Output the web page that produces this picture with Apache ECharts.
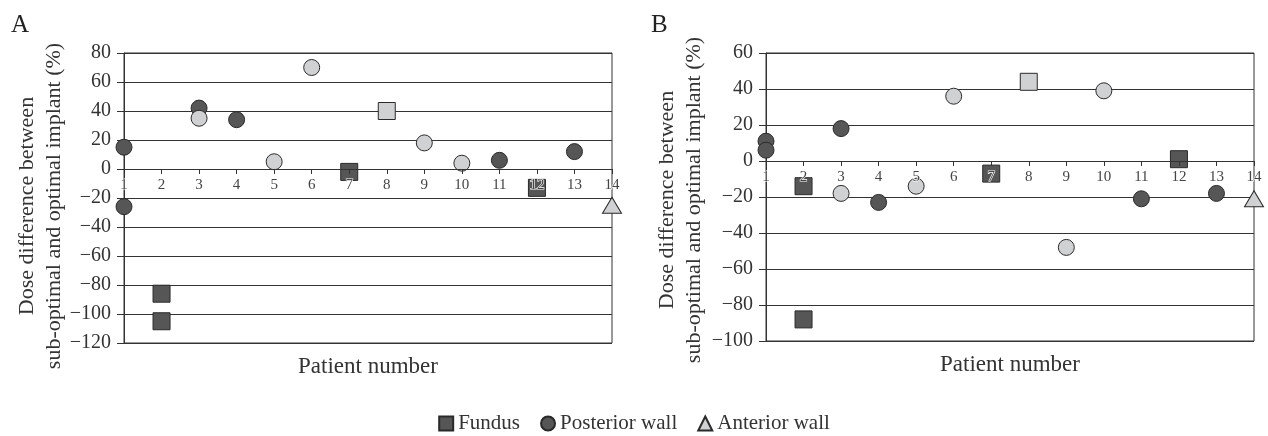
<!DOCTYPE html>
<html>
<head>
<meta charset="utf-8">
<script src="https://cdn.jsdelivr.net/npm/echarts@6/dist/echarts.min.js"></script>
<style>html,body{margin:0;padding:0;background:#fff}#c{width:1268px;height:436px}</style>
</head>
<body>
<div id="c"></div>
<script>
// Panel A data: [patient number, dose difference %]
const aFundus = [[2, -86], [2, -105], [7, -2], [12, -13]];
const aPosterior = [[1, 15], [1, -26], [3, 42], [4, 34], [11, 6], [13, 12]];
const aAnterior = [[14, -25]];
const aLightCircle = [[3, 35], [5, 5], [6, 70], [9, 18], [10, 4]];
const aLightSquare = [[8, 40]];

// Panel B data
const bFundus = [[2, -14], [2, -88], [7, -7], [12, 1]];
const bPosterior = [[1, 11], [1, 6], [3, 18], [4, -23], [11, -21], [13, -18]];
const bAnterior = [[14, -21]];
const bLightCircle = [[3, -18], [5, -14], [6, 36], [9, -48], [10, 39]];
const bLightSquare = [[8, 44]];

const yRangeA = [-120, 80];
const yRangeB = [-100, 60];
const legendNames = ['Fundus', 'Posterior wall', 'Anterior wall'];
const panelLetters = ['A', 'B'];
const yName = 'Dose difference between\nsub-optimal and optimal implant (%)';
const xName = 'Patient number';

const FONT = '"Liberation Serif", "Times New Roman", serif';
const DARK = '#565656';
const LIGHT = '#d0d1d3';
const EDGE = '#2a2a2a';
const LINE = '#333';

const H = 436;
const gridA = { left: 124, right: 656, top: 53, bottom: 93 };
const gridB = { left: 766, right: 14, top: 53, bottom: 95 };

// place the x axis on the zero line of the y scale
function zeroOffset(grid, range) {
  const h = H - grid.top - grid.bottom;
  return -h * (0 - range[0]) / (range[1] - range[0]);
}

function xAxisCfg(idx, offset) {
  return {
    type: 'value', gridIndex: idx, min: 1, max: 14, interval: 1, z: 5,
    position: 'bottom', offset,
    axisLine: { show: true, onZero: false, lineStyle: { color: LINE, width: 1 } },
    axisTick: { show: true, length: 5, lineStyle: { color: LINE } },
    axisLabel: { fontSize: 15, color: '#444', margin: 9, fontFamily: FONT,
      textBorderColor: '#fff', textBorderWidth: 1.2 },
    splitLine: { show: false }
  };
}
function yAxisCfg(idx, range) {
  return {
    type: 'value', gridIndex: idx, min: range[0], max: range[1], interval: 20,
    axisLine: { show: true, onZero: false, lineStyle: { color: LINE, width: 1 } },
    axisTick: { show: true, length: 7, lineStyle: { color: LINE } },
    axisLabel: { fontSize: 20, color: '#333', margin: 13, fontFamily: FONT,
      formatter: v => String(v).replace('-', '\u2212') },
    splitLine: { show: true, lineStyle: { color: LINE, width: 1 } }
  };
}
function sc(name, data, idx, symbol, color, size) {
  return {
    name, type: 'scatter', xAxisIndex: idx, yAxisIndex: idx, data,
    symbol, symbolSize: size,
    itemStyle: { color, borderColor: EDGE, borderWidth: 1, opacity: 1 },
    emphasis: { disabled: true }, z: 3
  };
}

const chart = echarts.init(document.getElementById('c'), null, { renderer: 'canvas' });
chart.setOption({
  animation: false,
  textStyle: { fontFamily: FONT },
  grid: [
    Object.assign({ show: true, borderColor: LINE, borderWidth: 1 }, gridA),
    Object.assign({ show: true, borderColor: LINE, borderWidth: 1 }, gridB)
  ],
  xAxis: [xAxisCfg(0, zeroOffset(gridA, yRangeA)), xAxisCfg(1, zeroOffset(gridB, yRangeB))],
  yAxis: [yAxisCfg(0, yRangeA), yAxisCfg(1, yRangeB)],
  legend: {
    data: legendNames, left: 'center', top: 413, padding: 0,
    itemWidth: 14, itemHeight: 14, itemGap: 20,
    textStyle: { fontSize: 21, color: '#333', fontFamily: FONT }
  },
  graphic: [
    { type: 'text', left: 11, top: 13, style: { text: panelLetters[0], font: '25px ' + FONT, fill: '#222' } },
    { type: 'text', left: 651, top: 13, style: { text: panelLetters[1], font: '25px ' + FONT, fill: '#222' } },
    { type: 'text', x: 41, y: 206, rotation: Math.PI / 2,
      style: { text: yName, font: '22px ' + FONT, lineHeight: 27, fill: '#333', align: 'center', verticalAlign: 'middle' } },
    { type: 'text', x: 681, y: 200, rotation: Math.PI / 2,
      style: { text: yName, font: '22px ' + FONT, lineHeight: 27, fill: '#333', align: 'center', verticalAlign: 'middle' } },
    { type: 'text', x: 368, y: 367,
      style: { text: xName, font: '23px ' + FONT, fill: '#333', align: 'center', verticalAlign: 'middle' } },
    { type: 'text', x: 1010, y: 365,
      style: { text: xName, font: '23px ' + FONT, fill: '#333', align: 'center', verticalAlign: 'middle' } }
  ],
  series: [
    sc('Fundus', aFundus, 0, 'rect', DARK, 17),
    sc('Posterior wall', aPosterior, 0, 'circle', DARK, 16),
    sc('Anterior wall', aAnterior, 0, 'triangle', LIGHT, [19, 16]),
    sc('Other (circle)', aLightCircle, 0, 'circle', LIGHT, 16),
    sc('Other (square)', aLightSquare, 0, 'rect', LIGHT, 17),
    sc('Fundus', bFundus, 1, 'rect', DARK, 17),
    sc('Posterior wall', bPosterior, 1, 'circle', DARK, 16),
    sc('Anterior wall', bAnterior, 1, 'triangle', LIGHT, [19, 16]),
    sc('Other (circle)', bLightCircle, 1, 'circle', LIGHT, 16),
    sc('Other (square)', bLightSquare, 1, 'rect', LIGHT, 17)
  ]
});
</script>
</body>
</html>
